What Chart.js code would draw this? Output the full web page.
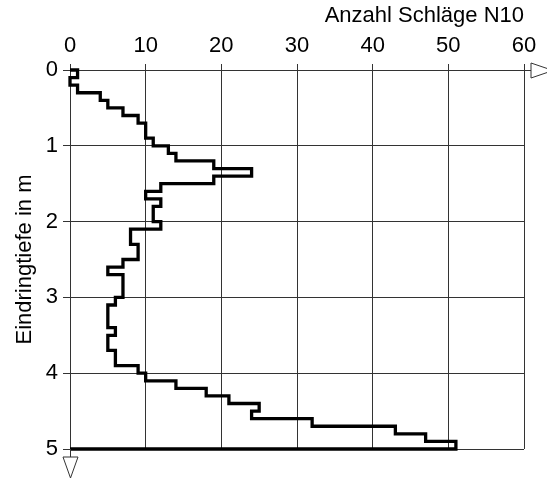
<!DOCTYPE html>
<html>
<head>
<meta charset="utf-8">
<script src="https://cdn.jsdelivr.net/npm/chart.js@4/dist/chart.umd.min.js"></script>
<style>
  html, body { margin: 0; padding: 0; background: #fff; }
</style>
</head>
<body>
<canvas id="myChart" width="547" height="479"></canvas>
<script>
// top of each 10 cm interval (m) and blow count N10 for that interval
const depthTop = [
  0.0, 0.1, 0.2, 0.3, 0.4, 0.5, 0.6, 0.7, 0.8, 0.9,
  1.0, 1.1, 1.2, 1.3, 1.4, 1.5, 1.6, 1.7, 1.8, 1.9,
  2.0, 2.1, 2.2, 2.3, 2.4, 2.5, 2.6, 2.7, 2.8, 2.9,
  3.0, 3.1, 3.2, 3.3, 3.4, 3.5, 3.6, 3.7, 3.8, 3.9,
  4.0, 4.1, 4.2, 4.3, 4.4, 4.5, 4.6, 4.7, 4.8, 4.9,
];
const blows = [
  1, 0, 1, 4, 5, 7, 9, 10, 10, 11,
  13, 14, 19, 24, 19, 12, 10, 12, 11, 11,
  12, 8, 8, 9, 9, 7, 5, 7, 7, 7,
  6, 5, 5, 5, 6, 5, 5, 6, 6, 9,
  10, 14, 18, 21, 25, 24, 32, 43, 47, 51,
];
const finalDepth = 5.0;
const blowTicks = [0, 10, 20, 30, 40, 50, 60];
const depthTicks = [0, 1, 2, 3, 4, 5];

const font = { family: "'Liberation Sans', Arial, sans-serif", size: 22 };
const lineCol = '#333';

// path: start at surface, one vertical step per interval, close back to 0 at final depth
const stepPoints = [{ x: 0, y: depthTop[0] }]
  .concat(depthTop.map((d, i) => ({ x: blows[i], y: d })))
  .concat([{ x: 0, y: finalDepth }]);

const axisArrows = {
  id: 'axisArrows',
  afterDraw(chart) {
    const { ctx, chartArea: a } = chart;
    const yTop = Math.round(a.top) + 0.5;
    const xLeft = Math.round(a.left) + 0.5;
    ctx.save();
    ctx.strokeStyle = lineCol;
    ctx.fillStyle = '#fff';
    ctx.lineWidth = 1;
    // x axis arrow (right)
    ctx.beginPath();
    ctx.moveTo(a.right, yTop);
    ctx.lineTo(a.right + 7, yTop);
    ctx.stroke();
    ctx.beginPath();
    ctx.moveTo(a.right + 7, yTop - 7.5);
    ctx.lineTo(a.right + 29, yTop);
    ctx.lineTo(a.right + 7, yTop + 7.5);
    ctx.closePath();
    ctx.fill();
    ctx.stroke();
    // y axis arrow (down)
    ctx.beginPath();
    ctx.moveTo(xLeft, a.bottom);
    ctx.lineTo(xLeft, a.bottom + 8);
    ctx.stroke();
    ctx.beginPath();
    ctx.moveTo(xLeft - 7.5, a.bottom + 8);
    ctx.lineTo(xLeft, a.bottom + 29);
    ctx.lineTo(xLeft + 7.5, a.bottom + 8);
    ctx.closePath();
    ctx.fill();
    ctx.stroke();
    ctx.restore();
  },
};

const ctx = document.getElementById('myChart').getContext('2d');
const myChart = new Chart(ctx, {
  type: 'scatter',
  data: {
    datasets: [{
      data: stepPoints,
      showLine: true,
      stepped: 'after',
      borderColor: '#000',
      borderWidth: 3.3,
      pointRadius: 0,
      clip: 6,
    }],
  },
  options: {
    responsive: false,
    animation: false,
    layout: { padding: { left: 0, top: 0, right: 23, bottom: 30 } },
    plugins: { legend: { display: false }, tooltip: { enabled: false } },
    scales: {
      x: {
        type: 'linear',
        position: 'top',
        min: 0,
        max: 60,
        afterFit: (s) => { s.height = 70; },
        afterBuildTicks: (s) => { s.ticks = blowTicks.map((v) => ({ value: v })); },
        ticks: { font: font, color: '#000', padding: 5, maxRotation: 0 },
        grid: { color: lineCol, tickLength: 6 },
        border: { color: lineCol },
        title: {
          display: true,
          text: 'Anzahl Schläge N10',
          align: 'end',
          font: font,
          color: '#000',
          padding: { top: 3, bottom: 0 },
        },
      },
      y: {
        type: 'linear',
        reverse: true,
        min: 0,
        max: 5,
        afterFit: (s) => { s.width = 70; },
        afterBuildTicks: (s) => { s.ticks = depthTicks.map((v) => ({ value: v })); },
        ticks: { font: font, color: '#000', padding: 5 },
        grid: { color: lineCol, tickLength: 7 },
        border: { color: lineCol },
        title: {
          display: true,
          text: 'Eindringtiefe in m',
          font: font,
          color: '#000',
          padding: { top: 12, bottom: 0 },
        },
      },
    },
  },
  plugins: [axisArrows],
});
</script>
</body>
</html>
